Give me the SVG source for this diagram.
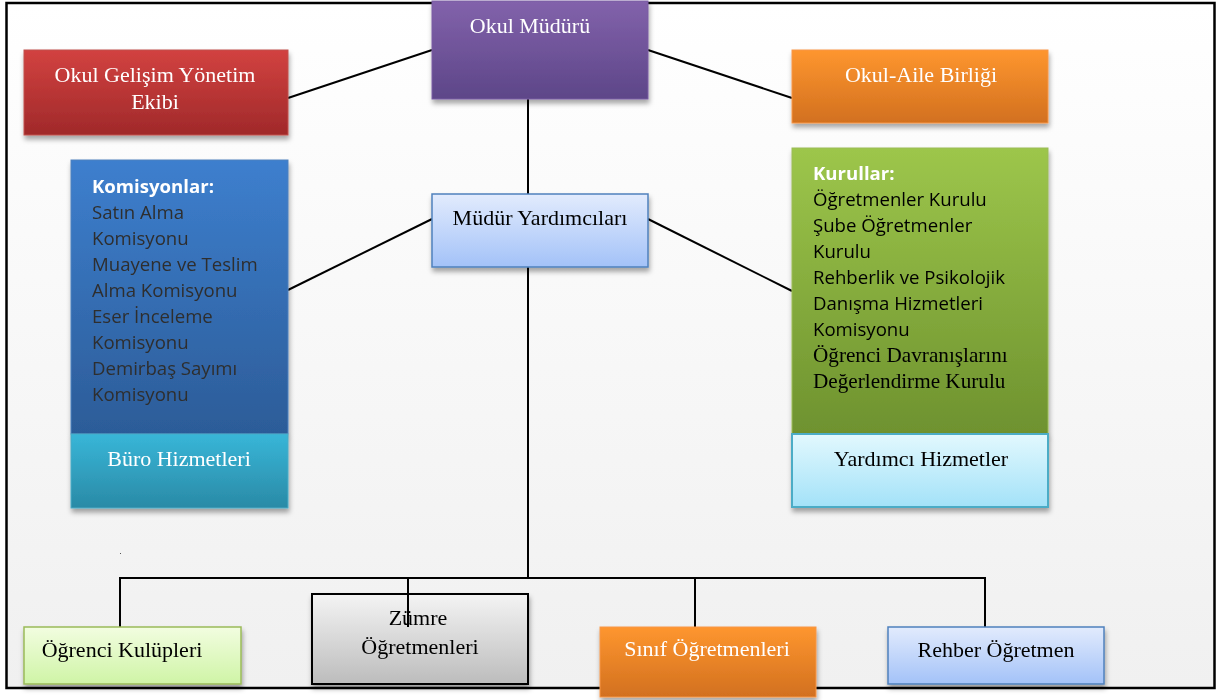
<svg xmlns="http://www.w3.org/2000/svg" width="1217" height="700" viewBox="0 0 1217 700">
<defs>
<linearGradient id="bg" x1="0" y1="0" x2="0" y2="1"><stop offset="0" stop-color="#ffffff"/><stop offset="1" stop-color="#f0f0f0"/></linearGradient>
<linearGradient id="gPurple" x1="0" y1="0" x2="0" y2="1"><stop offset="0" stop-color="#8262ab"/><stop offset="1" stop-color="#5d4688"/></linearGradient>
<linearGradient id="gRed" x1="0" y1="0" x2="0" y2="1"><stop offset="0" stop-color="#d24240"/><stop offset="1" stop-color="#a0292a"/></linearGradient>
<linearGradient id="gOrange" x1="0" y1="0" x2="0" y2="1"><stop offset="0" stop-color="#fe962f"/><stop offset="1" stop-color="#d2701f"/></linearGradient>
<linearGradient id="gBlue" x1="0" y1="0" x2="0" y2="1"><stop offset="0" stop-color="#3d7fce"/><stop offset="1" stop-color="#2c5c98"/></linearGradient>
<linearGradient id="gTeal" x1="0" y1="0" x2="0" y2="1"><stop offset="0" stop-color="#38b6d8"/><stop offset="1" stop-color="#2a8aa6"/></linearGradient>
<linearGradient id="gGreen" x1="0" y1="0" x2="0" y2="1"><stop offset="0" stop-color="#9dc64b"/><stop offset="1" stop-color="#6e922f"/></linearGradient>
<linearGradient id="gCyan" x1="0" y1="0" x2="0" y2="1"><stop offset="0" stop-color="#e2f8fe"/><stop offset="1" stop-color="#a3e2f8"/></linearGradient>
<linearGradient id="gLBlue" x1="0" y1="0" x2="0" y2="1"><stop offset="0" stop-color="#e2ebfd"/><stop offset="1" stop-color="#a3c2f8"/></linearGradient>
<linearGradient id="gLGreen" x1="0" y1="0" x2="0" y2="1"><stop offset="0" stop-color="#f2fde0"/><stop offset="1" stop-color="#cff4a6"/></linearGradient>
<linearGradient id="gGrey" x1="0" y1="0" x2="0" y2="1"><stop offset="0" stop-color="#f4f4f4"/><stop offset="1" stop-color="#bcbcbc"/></linearGradient>
<filter id="sh" x="-10%" y="-10%" width="130%" height="140%"><feDropShadow dx="1" dy="4" stdDeviation="2.5" flood-color="#000" flood-opacity="0.35"/></filter>
</defs>
<style>
.ser{font-family:"Liberation Serif","Times New Roman",serif;font-size:22px}
.ser2{font-family:"Liberation Serif","Times New Roman",serif;font-size:21.2px}
.san{font-family:"Open Sans","Noto Sans","Liberation Sans",sans-serif;font-size:18.6px}
.w{fill:#ffffff}
.k{fill:#000000}
.dk{fill:#2e2e2e}
.ln{stroke:#000;stroke-width:2;fill:none}
</style>
<rect x="6.5" y="3" width="1208" height="685" fill="url(#bg)" stroke="#000" stroke-width="2.5"/>
<g id="connectors">
<line class="ln" x1="432" y1="50" x2="288" y2="98"/>
<line class="ln" x1="648" y1="50" x2="792" y2="98"/>
<line class="ln" x1="432" y1="219" x2="288" y2="290"/>
<line class="ln" x1="648" y1="219" x2="792" y2="291"/>
<line class="ln" x1="528" y1="99" x2="528" y2="194"/>
<line class="ln" x1="528" y1="267" x2="528" y2="578"/>
<polyline class="ln" points="120,627 120,578 985,578 985,627"/>
<line class="ln" x1="695" y1="578" x2="695" y2="627"/>
</g>
<g id="okul-muduru" filter="url(#sh)">
<rect x="432" y="1" width="216" height="98" fill="url(#gPurple)" stroke="#7a5ca3" stroke-width="1"/>
<text class="ser w" x="530" y="33" text-anchor="middle">Okul Müdürü</text>
</g>
<g id="gelisim" filter="url(#sh)">
<rect x="24" y="50" width="264" height="85" fill="url(#gRed)" stroke="#c0504d" stroke-width="1"/>
<text class="ser w" x="155" y="82" text-anchor="middle">Okul Gelişim Yönetim</text>
<text class="ser w" x="155" y="109" text-anchor="middle">Ekibi</text>
</g>
<g id="okul-aile" filter="url(#sh)">
<rect x="792" y="50" width="256" height="73" fill="url(#gOrange)" stroke="#f79646" stroke-width="1"/>
<text class="ser w" x="921" y="82" text-anchor="middle">Okul-Aile Birliği</text>
</g>
<g id="mudur-yardimcilari" filter="url(#sh)">
<rect x="432" y="194" width="216" height="73" fill="url(#gLBlue)" stroke="#4f81bd" stroke-width="1.5"/>
<text class="ser k" x="540" y="225" text-anchor="middle">Müdür Yardımcıları</text>
</g>
<g id="komisyonlar" filter="url(#sh)">
<rect x="71" y="160" width="217" height="274" fill="url(#gBlue)" stroke="#4f81bd" stroke-width="1"/>
<text class="san" x="92" y="193" font-weight="bold" fill="#ffffff">Komisyonlar:</text>
<text class="san dk" x="92" y="219">Satın Alma</text>
<text class="san dk" x="92" y="245">Komisyonu</text>
<text class="san dk" x="92" y="271">Muayene ve Teslim</text>
<text class="san dk" x="92" y="297">Alma Komisyonu</text>
<text class="san dk" x="92" y="323">Eser İnceleme</text>
<text class="san dk" x="92" y="349">Komisyonu</text>
<text class="san dk" x="92" y="375">Demirbaş Sayımı</text>
<text class="san dk" x="92" y="401">Komisyonu</text>
</g>
<g id="buro" filter="url(#sh)">
<rect x="71" y="434" width="217" height="74" fill="url(#gTeal)" stroke="#4bacc6" stroke-width="1"/>
<text class="ser w" x="179" y="466" text-anchor="middle">Büro Hizmetleri</text>
</g>
<g id="kurullar" filter="url(#sh)">
<rect x="792" y="148" width="256" height="286" fill="url(#gGreen)" stroke="#9bbb59" stroke-width="1"/>
<text class="san" x="813" y="180" font-weight="bold" fill="#ffffff">Kurullar:</text>
<text class="san k" x="813" y="206">Öğretmenler Kurulu</text>
<text class="san k" x="813" y="232">Şube Öğretmenler</text>
<text class="san k" x="813" y="258">Kurulu</text>
<text class="san k" x="813" y="284">Rehberlik ve Psikolojik</text>
<text class="san k" x="813" y="310">Danışma Hizmetleri</text>
<text class="san k" x="813" y="336">Komisyonu</text>
<text class="ser2 k" x="813" y="362">Öğrenci Davranışlarını</text>
<text class="ser2 k" x="813" y="388">Değerlendirme Kurulu</text>
</g>
<g id="yardimci" filter="url(#sh)">
<rect x="792" y="434" width="256" height="73" fill="url(#gCyan)" stroke="#4bacc6" stroke-width="2"/>
<text class="ser k" x="921" y="466" text-anchor="middle">Yardımcı Hizmetler</text>
</g>
<g id="ogrenci-kulupleri" filter="url(#sh)">
<rect x="24" y="627" width="217" height="57" fill="url(#gLGreen)" stroke="#9bbb59" stroke-width="1.5"/>
<text class="ser k" x="122" y="657" text-anchor="middle">Öğrenci Kulüpleri</text>
</g>
<g id="zumre" filter="url(#sh)">
<rect x="312" y="594" width="216" height="90" fill="url(#gGrey)" stroke="#000" stroke-width="2"/>
<text class="ser k" x="418" y="625" text-anchor="middle">Zümre</text>
<text class="ser k" x="420" y="654" text-anchor="middle">Öğretmenleri</text>
</g>
<line class="ln" x1="408" y1="578" x2="408" y2="627"/>
<g id="sinif" filter="url(#sh)">
<rect x="600" y="627" width="216" height="70" fill="url(#gOrange)" stroke="#f79646" stroke-width="1"/>
<text class="ser w" x="707" y="656" text-anchor="middle">Sınıf Öğretmenleri</text>
</g>
<g id="rehber" filter="url(#sh)">
<rect x="888" y="627" width="216" height="57" fill="url(#gLBlue)" stroke="#4f81bd" stroke-width="1.5"/>
<text class="ser k" x="996" y="657" text-anchor="middle">Rehber Öğretmen</text>
</g>
<rect x="120" y="553" width="1" height="1" fill="#555"/>
</svg>
